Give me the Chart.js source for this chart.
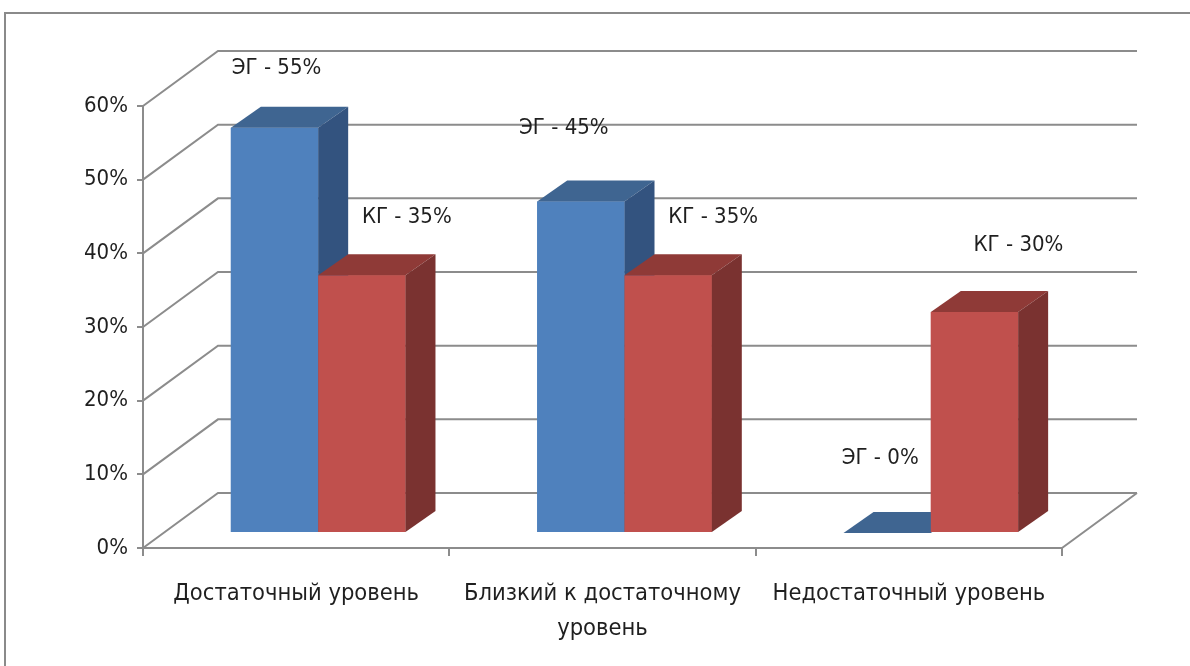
<!DOCTYPE html>
<html>
<head>
<meta charset="utf-8">
<script src="https://cdn.jsdelivr.net/npm/chart.js@4/dist/chart.umd.min.js"></script>
<style>
  html, body { margin: 0; padding: 0; background: #ffffff; }
  #wrap { width: 1190px; height: 666px; }
</style>
</head>
<body>
<div id="wrap"><canvas id="c" width="1190" height="666"></canvas></div>
<script>
// ---- data ----
const categories = ['Достаточный уровень', ['Близкий к достаточному', 'уровень'], 'Недостаточный уровень'];
const seriesNames = ['ЭГ', 'КГ'];
const egValues = [55, 45, 0];
const kgValues = [35, 35, 30];
const yMin = 0, yMax = 60, yStep = 10;

// ---- style ----
const FONT = '"DejaVu Sans Condensed", "DejaVu Sans", sans-serif';
const TEXT = '#1f1f1f';
const GRID = '#8c8c8c';
const depth = { wall: { dx: 75, dy: -55 }, front: { dx: 22, dy: -15 }, bar: { dx: 30, dy: -21 } };
const faces = [
  { front: '#4F81BD', top: '#3F6591', side: '#33537F' },
  { front: '#C0504D', top: '#8F3A37', side: '#7A3230' }
];
const labelNudge = [
  [[2, -60], [-17, -73], [-7, -75]],
  [[45, -58], [45, -58], [44, -67]]
];

const bar3d = {
  id: 'bar3d',
  beforeDraw(chart) {
    const ctx = chart.ctx;
    ctx.save();
    ctx.fillStyle = '#ffffff';
    ctx.fillRect(0, 0, chart.width, chart.height);
    ctx.strokeStyle = '#8a8a8a';
    ctx.lineWidth = 2;
    ctx.beginPath();
    ctx.moveTo(5, chart.height);
    ctx.lineTo(5, 13);
    ctx.lineTo(chart.width, 13);
    ctx.stroke();
    ctx.restore();
  },
  beforeDatasetsDraw(chart) {
    const ctx = chart.ctx, a = chart.chartArea, ys = chart.scales.y;
    const w = depth.wall;
    ctx.save();
    ctx.strokeStyle = GRID;
    ctx.lineWidth = 2;
    ctx.beginPath();
    for (let v = yMin; v <= yMax; v += yStep) {
      const yf = ys.getPixelForValue(v);
      ctx.moveTo(a.left, yf);
      ctx.lineTo(a.left + w.dx, yf + w.dy);
      ctx.lineTo(a.right + w.dx, yf + w.dy);
    }
    const y0 = ys.getPixelForValue(yMin);
    ctx.moveTo(a.right, y0);
    ctx.lineTo(a.right + w.dx, y0 + w.dy);
    ctx.stroke();
    ctx.restore();
    ctx.save();
    ctx.translate(depth.front.dx, depth.front.dy);
  },
  afterDatasetsDraw(chart) {
    const ctx = chart.ctx, b = depth.bar;
    // draw every bar again in painter's order: front face, top face, side face
    const n = chart.data.labels.length;
    for (let i = 0; i < n; i++) {
      chart.data.datasets.forEach((ds, di) => {
        const el = chart.getDatasetMeta(di).data[i];
        const f = faces[di];
        const p = el.getProps(['x', 'y', 'base', 'width'], true);
        const l = p.x - p.width / 2, r = p.x + p.width / 2, t = Math.min(p.y, p.base), bs = p.base;
        el.draw(ctx);
        ctx.fillStyle = f.top;
        ctx.beginPath();
        ctx.moveTo(l, t); ctx.lineTo(l + b.dx, t + b.dy); ctx.lineTo(r + b.dx, t + b.dy); ctx.lineTo(r, t);
        ctx.closePath(); ctx.fill();
        if (bs - t > 0.5) {
          ctx.fillStyle = f.side;
          ctx.beginPath();
          ctx.moveTo(r, t); ctx.lineTo(r + b.dx, t + b.dy); ctx.lineTo(r + b.dx, bs + b.dy); ctx.lineTo(r, bs);
          ctx.closePath(); ctx.fill();
        }
      });
    }
    ctx.restore();
    ctx.save();
    ctx.font = '22px ' + FONT;
    ctx.fillStyle = TEXT;
    ctx.textAlign = 'center';
    ctx.textBaseline = 'middle';
    chart.data.datasets.forEach((ds, di) => {
      const meta = chart.getDatasetMeta(di);
      meta.data.forEach((el, i) => {
        const p = el.getProps(['x', 'y'], true);
        const nd = labelNudge[di][i];
        ctx.fillText(seriesNames[di] + ' - ' + ds.data[i] + '%', p.x + depth.front.dx + nd[0], p.y + depth.front.dy + nd[1]);
      });
    });
    ctx.restore();
  }
};

new Chart(document.getElementById('c'), {
  type: 'bar',
  data: {
    labels: categories,
    datasets: [
      { label: seriesNames[0], data: egValues, backgroundColor: faces[0].front, borderWidth: 0, clip: false, inflateAmount: 0 },
      { label: seriesNames[1], data: kgValues, backgroundColor: faces[1].front, borderWidth: 0, clip: false, inflateAmount: 0 }
    ]
  },
  options: {
    responsive: false,
    animation: false,
    devicePixelRatio: 1,
    layout: { padding: { left: 0, right: 128, top: 106, bottom: 0 } },
    datasets: { bar: { categoryPercentage: 0.57, barPercentage: 1.0 } },
    plugins: { legend: { display: false }, tooltip: { enabled: false } },
    scales: {
      x: {
        grid: { drawOnChartArea: false, drawTicks: true, tickLength: 8, color: GRID, lineWidth: 2, offset: true },
        border: { display: true, color: GRID, width: 2 },
        ticks: { color: TEXT, font: { family: FONT, size: 23.5, lineHeight: 1.5 }, padding: 20, maxRotation: 0, autoSkip: false },
        afterFit: s => { s.height = 118; }
      },
      y: {
        min: yMin, max: yMax,
        grid: { drawOnChartArea: false, drawTicks: true, tickLength: 6, color: GRID, lineWidth: 2 },
        border: { display: true, color: GRID, width: 2 },
        ticks: { stepSize: yStep, color: TEXT, font: { family: FONT, size: 22 }, padding: 9, callback: v => v + '%' },
        afterFit: s => { s.width = 143; }
      }
    }
  },
  plugins: [bar3d]
});
</script>
</body>
</html>
